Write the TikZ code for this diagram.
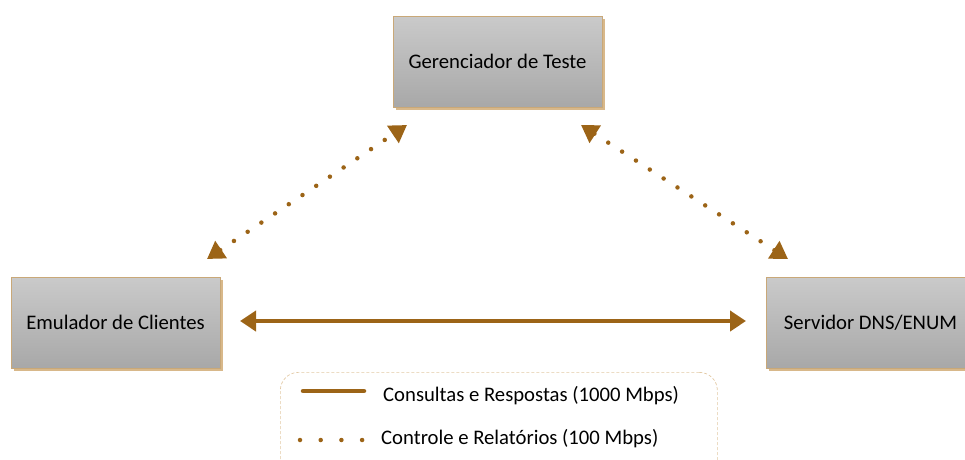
\documentclass[tikz,border=0pt]{standalone}
\usepackage{fontspec}
\setmainfont{Carlito}
\usetikzlibrary{arrows.meta,shadows}
\definecolor{boxtop}{HTML}{CACACA}
\definecolor{boxbot}{HTML}{A8A8A8}
\definecolor{tan}{HTML}{C9A878}
\definecolor{shad}{HTML}{D8B88A}
\definecolor{legb}{HTML}{E2C9A4}
\definecolor{arr}{HTML}{9C6417}
\tikzset{
  boxnode/.style={draw=tan, line width=0.8pt, top color=boxtop, bottom color=boxbot,
    minimum width=209pt, minimum height=91pt, inner sep=0pt,
    font=\fontsize{20.7}{24}\selectfont,
    drop shadow={shadow xshift=2.5pt, shadow yshift=-2.5pt, fill=shad, opacity=1}},
  thickarr/.style={draw=arr, line width=4pt, {Triangle[width=20pt,length=16pt]}-{Triangle[width=20pt,length=16pt]}},
  dotarr/.style={draw=arr, line width=4.5pt, line cap=round, dash pattern=on 0pt off 16.5pt,
    {Triangle[width=20pt,length=17pt,line cap=butt]}-{Triangle[width=20pt,length=17pt,line cap=butt]}},
  legtext/.style={anchor=west, font=\fontsize{20.7}{24}\selectfont, inner sep=0pt},
}
\begin{document}
\begin{tikzpicture}[x=1pt,y=-1pt]
\useasboundingbox (0,0) rectangle (965,459);
\clip (0,0) rectangle (965,459);
\node[boxnode] (ger) at (497.5,61.5) {Gerenciador de Teste};
\node[boxnode] (emu) at (115.5,322.5) {Emulador de Clientes};
\node[boxnode] (srv) at (870.5,322.5) {Servidor DNS/ENUM};
\coordinate (a1) at (240,321);
\coordinate (a2) at (746,321);
\draw[thickarr] (a1) -- (a2);
\coordinate (l1) at (207,259);
\coordinate (l2) at (407,125);
\draw[dotarr] (l1) -- (l2);
\coordinate (r1) at (581,125);
\coordinate (r2) at (788,259);
\draw[dotarr] (r1) -- (r2);
\node[draw=legb, dash pattern=on 3pt off 2pt, rounded corners=18pt, line width=0.7pt, minimum width=437pt, minimum height=110pt, anchor=north west] (leg) at (280,372) {};
\coordinate (s1) at (303,391);
\coordinate (s2) at (364,391);
\draw[draw=arr, line width=4.5pt, line cap=round] (s1) -- (s2);
\node[legtext] (t1) at (383,396) {Consultas e Respostas (1000 Mbps)};
\coordinate (d1) at (300,440);
\coordinate (d2) at (364,440);
\draw[draw=arr, line width=4.5pt, line cap=round, dash pattern=on 0pt off 20.7pt] (d1) -- (d2);
\node[legtext] (t2) at (381,439) {Controle e Relatórios (100 Mbps)};
\end{tikzpicture}
\end{document}
